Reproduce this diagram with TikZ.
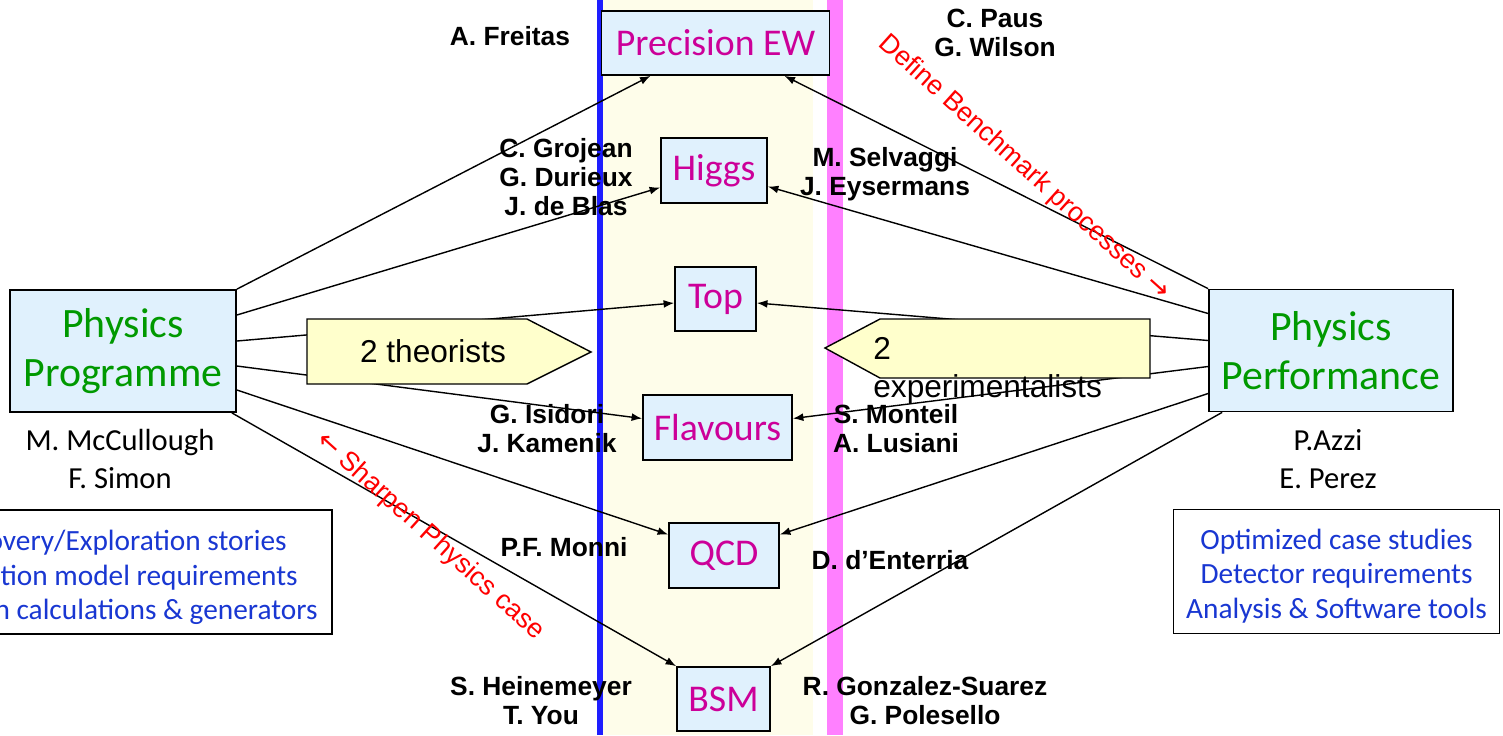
\documentclass[tikz,border=0pt]{standalone}
\usepackage{fontspec}
\setmainfont{Liberation Sans}
\newfontfamily\gill{Carlito}
\newfontfamily\symfont{DejaVu Sans}
\usetikzlibrary{arrows.meta}

\definecolor{boxblue}{RGB}{224,241,253}
\definecolor{topicpink}{RGB}{204,0,153}
\definecolor{progreen}{RGB}{0,153,0}
\definecolor{noteblue}{RGB}{25,55,210}
\definecolor{bandyellow}{RGB}{254,253,234}
\definecolor{padyellow}{RGB}{255,255,204}
\definecolor{lineblue}{RGB}{30,30,255}
\definecolor{linepink}{RGB}{255,128,255}

\begin{document}
\begin{tikzpicture}[x=0.02cm, y=-0.02cm,
    topic/.style={draw, line width=1pt, fill=boxblue, text=topicpink, minimum height=1.28cm, inner sep=0pt, font=\gill\fontsize{21.5}{24}\selectfont},
    wg/.style={draw, line width=1pt, fill=boxblue, text=progreen, minimum width=4.52cm, minimum height=2.44cm, align=center, font=\gill\fontsize{23.8}{28.3}\selectfont},
    who/.style={align=center, font=\bfseries\fontsize{15}{16.5}\selectfont},
    convener/.style={align=center, font=\gill\fontsize{17.4}{21.5}\selectfont},
    note/.style={text=noteblue, font=\gill\fontsize{16.7}{19.8}\selectfont},
    pad/.style={draw, line width=0.8pt, fill=padyellow},
    arr/.style={-{Latex[length=6pt,width=4.5pt]}, line width=0.8pt},
    motto/.style={text=red, rotate=-42, font=\fontsize{15.3}{18}\selectfont}
]
\useasboundingbox (0,0) rectangle (1503,735);
\fill[white] (0,0) rectangle (1503,735);

% band between the two lines
\fill[bandyellow] (603,0) rectangle (813,735);
\draw[lineblue, line width=0.12cm] (600,0) -- (600,735);
\draw[linepink, line width=0.32cm] (835,0) -- (835,735);

% topics
\node[topic, minimum width=4.56cm] (ew) at (715.5,43) {Precision EW};
\node[topic, minimum width=2.12cm, minimum height=1.3cm] (higgs) at (714,170.5) {Higgs};
\node[topic, minimum width=1.62cm] (top) at (715.5,299) {Top};
\node[topic, minimum width=2.98cm, minimum height=1.3cm] (flav) at (717.5,427.5) {Flavours};
\node[topic, minimum width=2.2cm, minimum height=1.3cm] (qcd) at (724,555.5) {QCD};
\node[topic, minimum width=1.86cm] (bsm) at (723.5,699) {BSM};

\node[wg] (prog) at (123,351) {Physics\\Programme};
\node[wg, minimum width=4.88cm] (perf) at (1331,350.5) {Physics\\Performance};

% programme side
\draw[arr] (prog.north east) -- ([xshift=-1.3cm]ew.south);
\draw[arr] ([yshift=0.72cm]prog.east) -- ([yshift=-0.34cm]higgs.west);
\draw[arr] ([yshift=0.2cm]prog.east) -- ([yshift=-0.08cm]top.west);
\draw[arr] ([yshift=-0.3cm]prog.east) -- ([yshift=0.18cm]flav.west);
\draw[arr] ([yshift=-0.78cm]prog.east) -- ([yshift=0.42cm]qcd.west);
\draw[arr] ([xshift=-0.1cm]prog.south east) -- (bsm.north west);

% performance side
\draw[arr] (perf.north west) -- ([xshift=1.38cm]ew.south);
\draw[arr] ([yshift=0.74cm]perf.west) -- ([yshift=-0.32cm]higgs.east);
\draw[arr] ([yshift=0.2cm]perf.west) -- ([yshift=-0.08cm]top.east);
\draw[arr] ([yshift=-0.32cm]perf.west) -- ([yshift=0.18cm]flav.east);
\draw[arr] ([yshift=-0.86cm]perf.west) -- ([yshift=0.42cm]qcd.east);
\draw[arr] ([xshift=0.28cm]perf.south west) -- (bsm.north east);

% the two pads
\draw[pad] (307,319) -- (527,319) -- (591,352) -- (527,384) -- (307,384) -- cycle;
\node[font=\fontsize{18}{21.5}\selectfont] (theo) at (433,351) {2 theorists};
\draw[pad] (825,348) -- (880,319) -- (1150,319) -- (1150,378) -- (880,378) -- cycle;
\node[font=\fontsize{18}{21.5}\selectfont, align=left, anchor=west, inner sep=0pt] (expt) at (873,371) {2\\experimentalists};

% names
\node[who] (freitas) at (510,36) {A. Freitas};
\node[who] (paus) at (995,33) {C. Paus\\G. Wilson};
\node[who] (grojean) at (566,177) {C. Grojean\\G. Durieux\\J. de Blas};
\node[who] (selvaggi) at (885,174) {M. Selvaggi\\J. Eysermans};
\node[who] (isidori) at (547,429) {G. Isidori\\J. Kamenik};
\node[who] (monteil) at (896,429) {S. Monteil\\A. Lusiani};
\node[who] (monni) at (564,547) {P.F. Monni};
\node[who] (enterria) at (890,560) {D. d’Enterria};
\node[who] (heinemeyer) at (541,701) {S. Heinemeyer\\T. You};
\node[who] (gonzalez) at (925,701) {R. Gonzalez-Suarez\\G. Polesello};

\node[convener] (mcc) at (120,459) {M. McCullough\\F. Simon};
\node[convener] (azzi) at (1328,459) {P.Azzi\\E. Perez};

% goals
\node[draw, line width=1pt, minimum width=8cm, minimum height=2.48cm, anchor=east] (prognote) at (333,572) {};
\node[note, anchor=east, inner sep=0pt] (story) at (287,543) {overy/Exploration stories};
\node[note, anchor=east, inner sep=0pt] (model) at (298,578) {ation model requirements};
\node[note, anchor=east, inner sep=0pt] (calc) at (318,612) {n calculations \& generators};
\node[draw, line width=1pt, minimum width=6.52cm, minimum height=2.48cm] (perfnote) at (1336.5,571.5) {};
\node[note, align=center] (perfgoals) at (1336.5,576) {Optimized case studies\\Detector requirements\\Analysis \& Software tools};

\node[motto] (bench) at (1024,168) {Define Benchmark processes {\symfont →}};
\node[motto] (sharpen) at (430,536) {{\symfont ←} Sharpen Physics case};
\end{tikzpicture}
\end{document}
